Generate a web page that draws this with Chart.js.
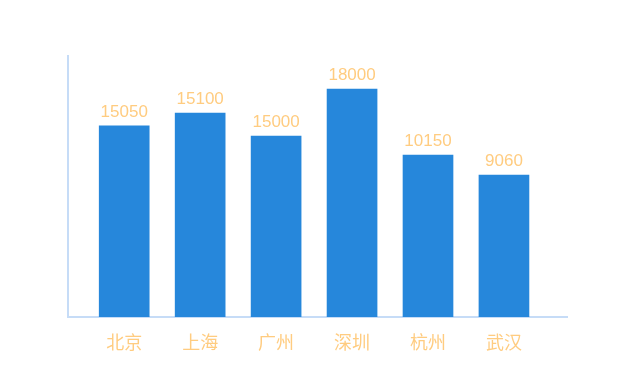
<!DOCTYPE html>
<html>
<head>
<meta charset="utf-8">
<script src="https://cdn.jsdelivr.net/npm/chart.js"></script>
<style>
  html, body { margin: 0; padding: 0; background: #fff; }
  #wrap { width: 640px; height: 380px; }
</style>
</head>
<body>
<div id="wrap"><canvas id="cityChart"></canvas></div>
<script>
const cities = ["北京", "上海", "广州", "深圳", "杭州", "武汉"];
const barValues = [14640, 15630, 13870, 17470, 12410, 10880];
const valueLabels = ["15050", "15100", "15000", "18000", "10150", "9060"];
const yMax = 20000;

const FONT = "'Liberation Sans', 'Noto Sans CJK SC', sans-serif";
const labelColor = "#ffcc80";
const axisColor = "#c6dcf7";

// value text above each bar
const valueLabelPlugin = {
  id: "valueLabels",
  afterDatasetsDraw(chart) {
    const ctx = chart.ctx;
    const meta = chart.getDatasetMeta(0);
    ctx.save();
    ctx.font = "17px " + FONT;
    ctx.fillStyle = labelColor;
    ctx.textAlign = "center";
    ctx.textBaseline = "alphabetic";
    meta.data.forEach((bar, i) => {
      ctx.fillText(valueLabels[i], bar.x, bar.y - 9);
    });
    ctx.restore();
  }
};

new Chart(document.getElementById("cityChart"), {
  type: "bar",
  data: {
    datasets: [{
      data: barValues.map((v, i) => ({ x: i, y: v })),
      backgroundColor: "#2687db",
      barThickness: 50
    }]
  },
  options: {
    responsive: true,
    maintainAspectRatio: false,
    animation: false,
    layout: { padding: { left: 68, right: 73, top: 56, bottom: 0 } },
    plugins: {
      legend: { display: false },
      tooltip: { enabled: false }
    },
    scales: {
      x: {
        type: "linear",
        min: -0.74,
        max: 5.83,
        offset: false,
        z: 1,
        grid: { display: false, drawTicks: false },
        border: { color: axisColor, width: 2 },
        afterBuildTicks: (s) => { s.ticks = cities.map((c, i) => ({ value: i })); },
        afterFit: (s) => { s.height = 63; },
        ticks: {
          padding: 16,
          color: labelColor,
          font: { size: 18, family: FONT },
          maxRotation: 0,
          autoSkip: false,
          callback: (v) => cities[v]
        }
      },
      y: {
        min: 0,
        max: yMax,
        grid: { display: false, drawTicks: false },
        border: { color: axisColor, width: 2 },
        ticks: { display: false }
      }
    }
  },
  plugins: [valueLabelPlugin]
});
</script>
</body>
</html>
